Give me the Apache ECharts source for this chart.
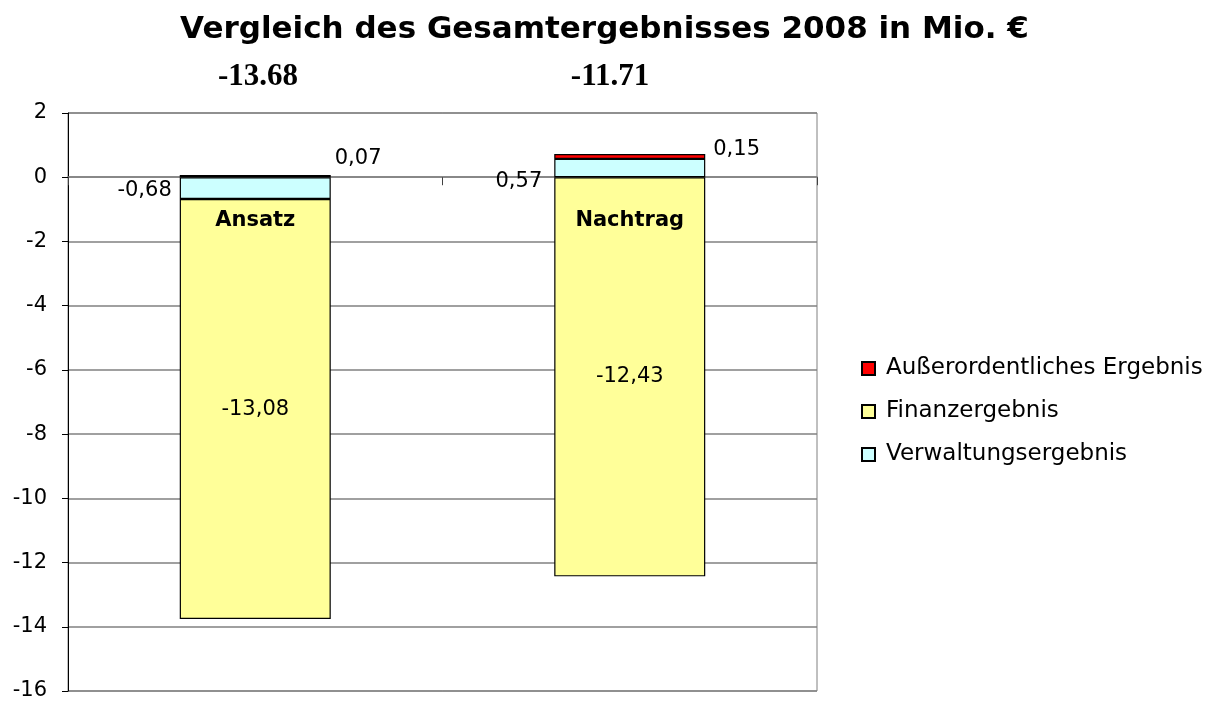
<!DOCTYPE html>
<html>
<head>
<meta charset="utf-8">
<script src="https://cdn.jsdelivr.net/npm/echarts@6/dist/echarts.min.js"></script>
<style>
  html, body { margin: 0; padding: 0; background: #fff; }
  #chart { width: 1209px; height: 701px; }
</style>
</head>
<body>
<div id="chart"></div>
<script>
const categories = ['Ansatz', 'Nachtrag'];
const verwaltung = [-0.68, 0.57];
const finanz = [-13.08, -12.43];
const ausserordentlich = [0.07, 0.15];
const totals = ['-13.68', '-11.71'];
const yTicks = { min: -16, max: 2, interval: 2 };

const font = '"DejaVu Sans", Arial, sans-serif';
const fmt = (p) => p.value.toFixed(2).replace('.', ',');

// label offsets per bar (Excel puts them a bit differently on each)
const cyanOffsets = [[0, 2], [-4, 13]];
const redOffsets = [[0, -18], [4, -7]];

const border = { borderColor: '#000', borderWidth: 1.2 };

const option = {
  animation: false,
  title: {
    text: 'Vergleich des Gesamtergebnisses 2008 in Mio. €',
    left: 'center',
    top: 9,
    textStyle: { fontFamily: font, fontSize: 31, fontWeight: 'bold', color: '#000' },
  },
  graphic: totals.map((t, i) => ({
    type: 'text',
    x: [258, 610][i],
    y: 77,
    style: {
      text: t,
      textAlign: 'center',
      textVerticalAlign: 'middle',
      font: 'bold 31px "Liberation Serif", "Times New Roman", serif',
      fill: '#000',
    },
  })),
  legend: {
    orient: 'vertical',
    left: 861,
    top: 357,
    padding: 0,
    itemWidth: 13,
    itemHeight: 13,
    itemGap: 20,
    icon: 'rect',
    data: ['Außerordentliches Ergebnis', 'Finanzergebnis', 'Verwaltungsergebnis'],
    textStyle: { fontFamily: font, fontSize: 23, color: '#000', padding: [0, 0, 0, 6] },
  },
  grid: {
    left: 68,
    right: 392,
    top: 113,
    bottom: 10,
    outerBoundsMode: 'none',
    show: true,
    borderColor: '#808080',
    borderWidth: 1,
  },
  xAxis: [
    {
      // axis on the zero line: line + ticks between the categories
      type: 'category',
      data: categories,
      axisLine: { show: true, onZero: true, lineStyle: { color: '#808080', width: 1.5 } },
      axisTick: { show: true, length: 8, lineStyle: { color: '#404040' } },
      axisLabel: { show: false },
    },
    {
      // category names, drawn just below the zero line inside the bars
      type: 'category',
      data: categories,
      position: 'top',
      offset: -118,
      z: 10,
      axisLine: { show: false, onZero: false },
      axisTick: { show: false },
      axisLabel: {
        margin: 0,
        fontFamily: font,
        fontSize: 21,
        fontWeight: 'bold',
        color: '#000',
      },
    },
  ],
  yAxis: {
    type: 'value',
    min: yTicks.min,
    max: yTicks.max,
    interval: yTicks.interval,
    axisLine: { show: true, lineStyle: { color: '#000', width: 1 } },
    axisTick: { show: true, length: 6, lineStyle: { color: '#000' } },
    axisLabel: { margin: 21, fontFamily: font, fontSize: 21, color: '#000' },
    splitLine: { show: true, lineStyle: { color: '#808080', width: 1.5 } },
  },
  series: [
    {
      name: 'Verwaltungsergebnis',
      type: 'bar',
      stack: 'total',
      barWidth: 151,
      itemStyle: { color: '#CCFFFF', ...border },
      data: verwaltung.map((v, i) => ({
        value: v,
        label: { offset: cyanOffsets[i] },
      })),
      label: {
        show: true,
        position: 'left',
        distance: 8,
        formatter: fmt,
        fontFamily: font,
        fontSize: 21,
        color: '#000',
      },
    },
    {
      name: 'Finanzergebnis',
      type: 'bar',
      stack: 'total',
      barWidth: 151,
      itemStyle: { color: '#FFFF99', ...border },
      data: finanz,
      label: {
        show: true,
        position: 'inside',
        formatter: fmt,
        fontFamily: font,
        fontSize: 21,
        color: '#000',
      },
    },
    {
      name: 'Außerordentliches Ergebnis',
      type: 'bar',
      stack: 'total',
      barWidth: 151,
      itemStyle: { color: '#FF0000', ...border },
      data: ausserordentlich.map((v, i) => ({
        value: v,
        label: { offset: redOffsets[i] },
      })),
      label: {
        show: true,
        position: 'right',
        distance: 4,
        formatter: fmt,
        fontFamily: font,
        fontSize: 21,
        color: '#000',
      },
    },
  ],
};

const myChart = echarts.init(document.getElementById('chart'));
myChart.setOption(option);
</script>
</body>
</html>
